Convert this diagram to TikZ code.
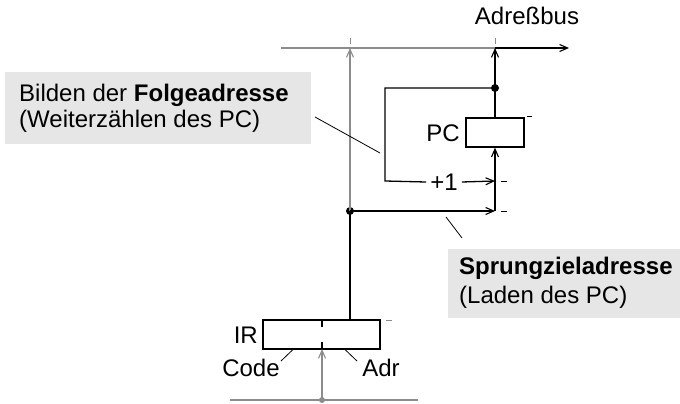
\documentclass[tikz,border=0pt]{standalone}
\usepackage{fontspec}
\setmainfont{Liberation Sans}
\usetikzlibrary{arrows.meta}
\definecolor{lbl}{HTML}{E6E6E6}
\definecolor{gline}{HTML}{8C8C8C}
\tikzset{
  wire/.style={line width=1.3pt, black},
  gwire/.style={line width=1.1pt, gline},
  arr/.style={-{Straight Barb[length=8pt,width=7pt,line width=1.1pt]}},
  reg/.style={draw, line width=1.3pt, fill=white, inner sep=0pt},
  txt/.style={inner sep=0pt, font=\fontsize{24}{26}\selectfont},
  lead/.style={line width=0.8pt, black},
  tick/.style={line width=1pt, gline},
  dot/.style={circle, fill, inner sep=0pt, minimum size=8pt},
}
\begin{document}
\begin{tikzpicture}[x=1pt,y=-1pt]
\useasboundingbox (0,0) rectangle (680,404);
% label boxes
\fill[lbl] (5,72) rectangle (311,144);
\fill[lbl] (448,249) rectangle (680,318);
\node[txt, anchor=west] (l1) at (19,95) {Bilden der \textbf{Folgeadresse}};
\node[txt, anchor=west] (l2) at (19,121) {(Weiterzählen des PC)};
\node[txt, anchor=west] (r1) at (459,268) {\textbf{Sprungzieladresse}};
\node[txt, anchor=west] (r2) at (459,297) {(Laden des PC)};
% bus
\node[txt] (bus) at (527,16) {Adreßbus};
\coordinate (busL) at (281,48);
\coordinate (busA) at (350,48);
\coordinate (busB) at (495,48);
\coordinate (busR) at (569,48);
\draw[gwire] (busL) -- (busB);
\draw[wire, arr] (busB) -- (busR);
\draw[tick] (350,38) -- (350,44);
\draw[tick] (495,38) -- (495,44);
% PC register
\node[reg, minimum width=58pt, minimum height=29pt] (pc) at (495,132.5) {};
\node[txt, anchor=east] (pcl) at (460,133) {PC};
\node[dot] (d1) at (495,88) {};
\coordinate (c1) at (385,88);
\coordinate (c2) at (385,181);
\coordinate (p1) at (495,181);
\node[txt, fill=white, inner xsep=4pt] (plus) at (444,182) {+1};
\coordinate (p2) at (495,211);
\draw[wire] (pc.north) -- (d1.center);
\draw[wire, arr] (d1.center) -- (busB);
\draw[wire] (d1.center) -- (c1) -- (c2) -- (plus.west);
\draw[wire, arr] (plus.east) -- (p1);
\draw[wire, arr] (p2) -- (pc.south);
\draw[tick, black] (527,116) -- (532,116);
\draw[tick, black] (501,181) -- (507,181);
\draw[tick, black] (501,211) -- (507,211);
% junction
\node[dot] (j) at (350,211) {};
\draw[gwire, arr] (j.center) -- (busA);
\draw[wire, arr] (j.center) -- (p2);
% IR register
\node[reg, minimum width=117pt, minimum height=29pt] (ir) at (321.5,334.5) {};
\node[txt, anchor=east] (irl) at (258,335) {IR};
\draw[wire] (j.center) -- (350,320);
\draw[line width=1.3pt] (322,320) -- (322,327);
\draw[line width=1.3pt] (322,342) -- (322,349);
\draw[tick] (386,320) -- (392,320);
\node[txt] (code) at (251,368) {Code};
\node[txt] (adr) at (381,368) {Adr};
\draw[lead] (292.5,350) -- (281,361);
\draw[lead] (345.5,350) -- (357,361);
% bottom bus
\draw[gwire] (230,400) -- (418,400);
\node[dot, fill=gline, minimum size=6pt] (d2) at (322,400) {};
\draw[gwire, arr] (d2.center) -- (322,349);
% leaders
\draw[lead] (315,117) -- (380,153);
\draw[lead] (446,217) -- (462,238);
\end{tikzpicture}
\end{document}
